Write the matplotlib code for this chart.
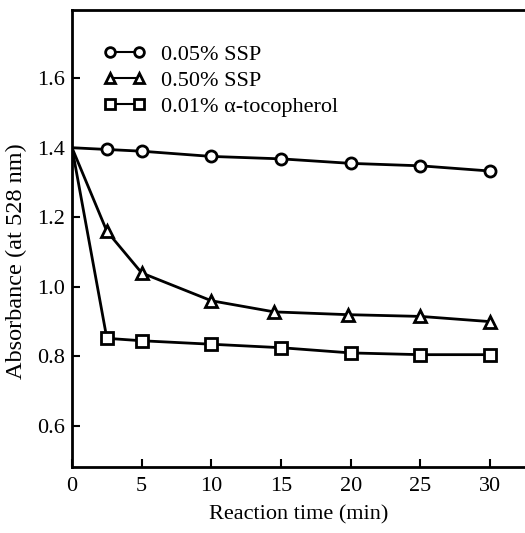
import matplotlib
matplotlib.use("Agg")
import matplotlib.pyplot as plt

plt.rcParams["font.family"] = ["Liberation Serif", "DejaVu Serif"]

# valores
t_ssp005 = [0, 2.5, 5, 10, 15, 20, 25, 30]
abs_ssp005 = [1.40, 1.395, 1.39, 1.375, 1.368, 1.355, 1.348, 1.333]

t_ssp050 = [0, 2.5, 5, 10, 14.5, 19.8, 25, 30]
abs_ssp050 = [1.40, 1.16, 1.04, 0.96, 0.928, 0.92, 0.915, 0.90]

t_toc = [0, 2.5, 5, 10, 15, 20, 25, 30]
abs_toc = [1.40, 0.852, 0.845, 0.835, 0.825, 0.81, 0.805, 0.805]

x_ticks = [0, 5, 10, 15, 20, 25, 30]
y_ticks = [0.6, 0.8, 1.0, 1.2, 1.4, 1.6]

fig = plt.figure(figsize=(5.25, 5.33), dpi=100)
ax = fig.add_axes([72 / 525, 66 / 533, 453 / 525, 457 / 533])

estilo = dict(color="black", linewidth=2, markersize=8, markerfacecolor="white",
              markeredgewidth=2)
ax.plot(t_ssp005, abs_ssp005, marker="o", markevery=list(range(1, 8)),
        label="0.05% SSP", **estilo)
ax.plot(t_ssp050, abs_ssp050, marker="^", markevery=list(range(1, 8)),
        label="0.50% SSP", **estilo)
ax.plot(t_toc, abs_toc, marker="s", markevery=list(range(1, 8)),
        label="0.01% \u03b1-tocopherol", **estilo)

ax.set_xlim(0, 32.5)
ax.set_ylim(0.482, 1.796)
ax.set_xticks(x_ticks)
ax.set_xticklabels([str(v) for v in x_ticks])
ax.set_yticks(y_ticks)
ax.set_yticklabels(["%.1f" % v for v in y_ticks])
ax.tick_params(direction="in", length=6, width=1.5, labelsize=16)
ax.tick_params(axis="y", pad=5)
ax.tick_params(axis="x", pad=7)

ax.spines["right"].set_visible(False)
for s in ["left", "bottom", "top"]:
    ax.spines[s].set_linewidth(2)

ax.set_xlabel("Reaction time (min)", fontsize=16, labelpad=7)
ax.set_ylabel("Absorbance (at 528 nm)", fontsize=17.5)
ax.yaxis.set_label_coords(-0.1, 0.45)

leg = ax.legend(loc="upper left", bbox_to_anchor=(0.05, 0.945), frameon=False,
                numpoints=2, fontsize=16, handlelength=1.9, handletextpad=0.7,
                labelspacing=0.25, borderaxespad=0)
for h in leg.legend_handles:
    h.set_markersize(7)
    h.set_linewidth(1.5)
    h.set_markevery(None)

fig.savefig("out.png", dpi=100)
